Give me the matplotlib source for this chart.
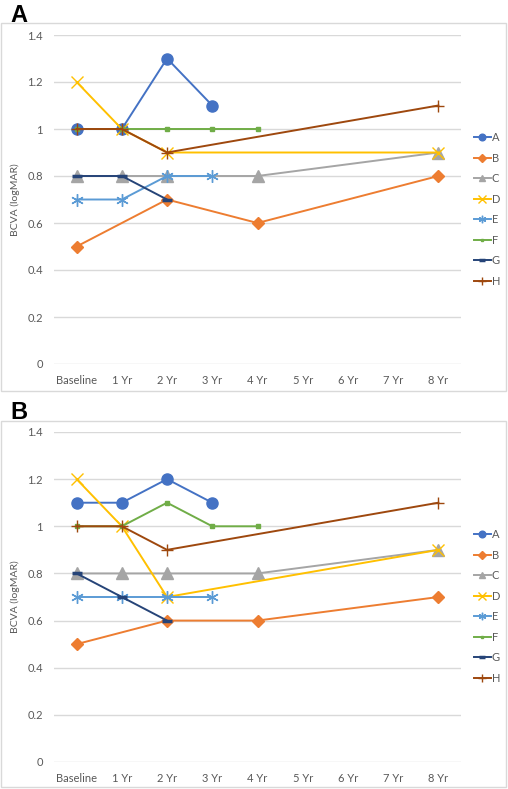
import numpy as np
import matplotlib
matplotlib.use("Agg")
import matplotlib.pyplot as plt
from matplotlib.patches import Rectangle

nan = np.nan
categories = ["Baseline", "1 Yr", "2 Yr", "3 Yr", "4 Yr", "5 Yr", "6 Yr", "7 Yr", "8 Yr"]
series_names = ["A", "B", "C", "D", "E", "F", "G", "H"]

panelA = {
    "A": [1.0, 1.0, 1.3, 1.1, nan, nan, nan, nan, nan],
    "B": [0.5, nan, 0.7, nan, 0.6, nan, nan, nan, 0.8],
    "C": [0.8, 0.8, 0.8, nan, 0.8, nan, nan, nan, 0.9],
    "D": [1.2, 1.0, 0.9, nan, nan, nan, nan, nan, 0.9],
    "E": [0.7, 0.7, 0.8, 0.8, nan, nan, nan, nan, nan],
    "F": [1.0, 1.0, 1.0, 1.0, 1.0, nan, nan, nan, nan],
    "G": [0.8, 0.8, 0.7, nan, nan, nan, nan, nan, nan],
    "H": [1.0, 1.0, 0.9, nan, nan, nan, nan, nan, 1.1],
}
panelB = {
    "A": [1.1, 1.1, 1.2, 1.1, nan, nan, nan, nan, nan],
    "B": [0.5, nan, 0.6, nan, 0.6, nan, nan, nan, 0.7],
    "C": [0.8, 0.8, 0.8, nan, 0.8, nan, nan, nan, 0.9],
    "D": [1.2, 1.0, 0.7, nan, nan, nan, nan, nan, 0.9],
    "E": [0.7, 0.7, 0.7, 0.7, nan, nan, nan, nan, nan],
    "F": [1.0, 1.0, 1.1, 1.0, 1.0, nan, nan, nan, nan],
    "G": [0.8, 0.7, 0.6, nan, nan, nan, nan, nan, nan],
    "H": [1.0, 1.0, 0.9, nan, nan, nan, nan, nan, 1.1],
}
yticks = [0, 0.2, 0.4, 0.6, 0.8, 1.0, 1.2, 1.4]
ytick_labels = ["0", "0.2", "0.4", "0.6", "0.8", "1", "1.2", "1.4"]

colors = {"A": "#4472C4", "B": "#ED7D31", "C": "#A5A5A5", "D": "#FFC000",
          "E": "#5B9BD5", "F": "#70AD47", "G": "#264478", "H": "#9E480E"}
markers = {"A": ("o", 8, 1.0), "B": ("D", 6.5, 1.0), "C": ("^", 8, 1.0), "D": ("x", 9, 1.0),
           "E": ((6, 2, 0), 9, 1.0), "F": ("s", 3.5, 1.0), "G": ("_", 7, 2.5), "H": ("+", 9, 1.0)}

plt.rcParams['font.family'] = ['Lato', 'DejaVu Sans']

W, H = 508, 789
fig = plt.figure(figsize=(W / 100, H / 100), dpi=100)

def fx(px): return px / W
def fy(py): return 1 - py / H

def draw_panel(data, top_px, bot_px, box_top, box_bot, letter, letter_top, legend_top):
    fig.patches.append(Rectangle((fx(1), fy(box_bot)), fx(505), (box_bot - box_top) / H,
                                 transform=fig.transFigure, fill=False,
                                 edgecolor="#D9D9D9", lw=1.0))
    fig.text(fx(10), fy(letter_top), letter, fontsize=17, fontweight="bold",
             family="Liberation Sans", va="top", ha="left")
    ax = fig.add_axes([fx(54), fy(bot_px), fx(461) - fx(54), (bot_px - top_px) / H])
    x = np.arange(len(categories))
    for name in series_names:
        y = np.array(data[name], dtype=float)
        m = ~np.isnan(y)
        mk, ms, mew = markers[name]
        ax.plot(x[m], y[m], color=colors[name], lw=1.4, marker=mk, markersize=ms,
                markeredgewidth=mew, markeredgecolor=colors[name],
                markerfacecolor=colors[name], label=name, zorder=3)
    ax.set_xlim(-0.5, len(categories) - 0.5)
    ax.set_ylim(0, 1.4)
    ax.set_yticks(yticks)
    ax.set_yticklabels(ytick_labels)
    ax.set_xticks(x)
    ax.set_xticklabels(categories)
    ax.grid(axis="y", color="#D9D9D9", lw=1.0, zorder=0)
    for s in ax.spines.values():
        s.set_visible(False)
    ax.tick_params(length=0, labelsize=8, colors="#595959", pad=8)
    ax.set_ylabel("BCVA (logMAR)", fontsize=7.5, color="#595959", labelpad=5)
    leg = ax.legend(loc="upper left", bbox_to_anchor=(fx(474), fy(legend_top)),
                    bbox_transform=fig.transFigure, frameon=False, fontsize=8,
                    handlelength=1.5, handletextpad=0.1, labelspacing=0.86,
                    borderaxespad=0, borderpad=0, markerscale=0.6)
    for t in leg.get_texts():
        t.set_color("#595959")
    return ax

draw_panel(panelA, 35, 364, 23, 391, "A", 4, 132)
draw_panel(panelB, 432, 762, 421, 787, "B", 401, 529)

fig.savefig("out.png", dpi=100)
